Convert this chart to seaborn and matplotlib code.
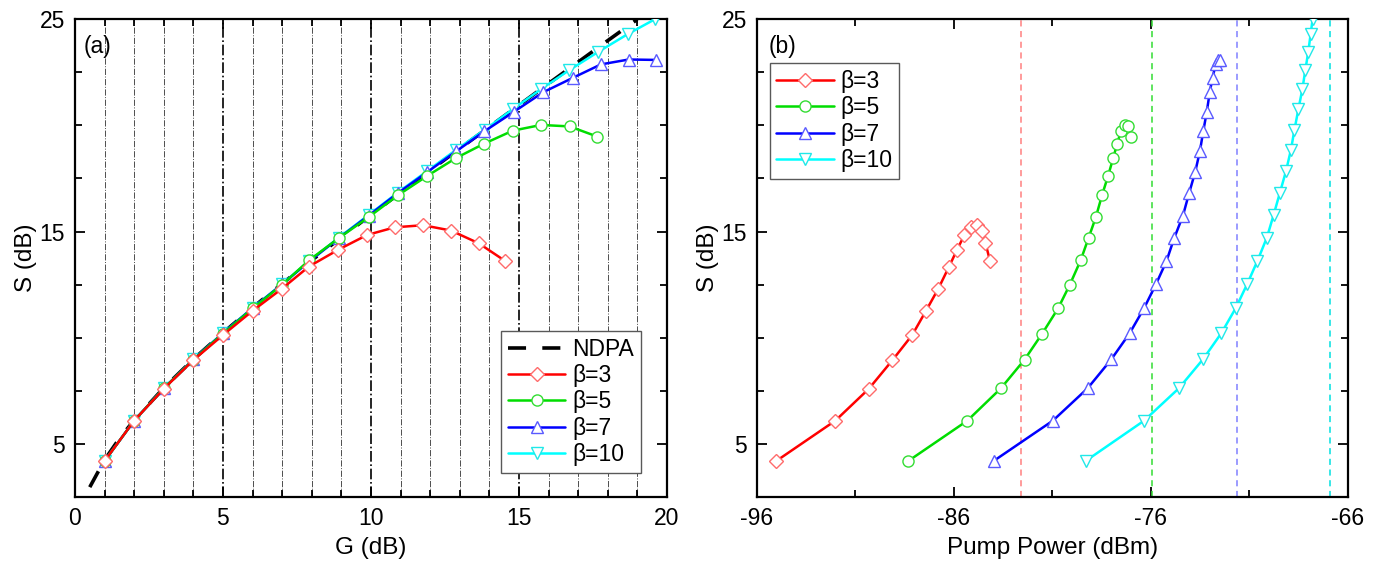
import numpy as np
import pandas as pd
import matplotlib
matplotlib.use('Agg')
import matplotlib.pyplot as plt
from matplotlib.ticker import MultipleLocator
import seaborn as sns

# (a) NDPA reference curve, S vs G
ndpa_gain = [0.5, 1, 1.5, 2, 3, 4, 5, 6, 7, 8, 9, 10, 11, 12, 13, 14, 15, 16, 17, 18, 19]
ndpa_s = [2.97, 4.25, 5.26, 6.12, 7.64, 8.99, 10.23, 11.42, 12.55, 13.65, 14.73, 15.79,
          16.84, 17.88, 18.91, 19.93, 20.95, 21.97, 22.98, 23.99, 24.99]

# beta = 3
b3_gain = [1, 2, 3, 4, 5, 6, 7, 7.9, 8.9, 9.87, 10.8, 11.76, 12.7, 13.64, 14.53]
b3_s = [4.2, 6.1, 7.6, 8.95, 10.13, 11.27, 12.32, 13.35, 14.15, 14.84, 15.2, 15.3, 15.05, 14.45, 13.62]
b3_pump = [-95.0, -92.0, -90.3, -89.1, -88.1, -87.4, -86.77, -86.23, -85.82, -85.45,
           -85.12, -84.82, -84.58, -84.38, -84.15]

# beta = 5
b5_gain = [1, 2, 3, 4, 5, 6, 7, 7.91, 8.92, 9.92, 10.9, 11.9, 12.87, 13.81, 14.79, 15.75, 16.71, 17.65]
b5_s = [4.2, 6.1, 7.62, 8.97, 10.2, 11.38, 12.5, 13.65, 14.7, 15.68, 16.7, 17.62, 18.46,
        19.13, 19.75, 20.02, 19.95, 19.47]
b5_pump = [-88.3, -85.3, -83.6, -82.4, -81.5, -80.7, -80.1, -79.55, -79.15, -78.78, -78.47,
           -78.16, -77.9, -77.7, -77.5, -77.3, -77.16, -77.0]

# beta = 7
b7_gain = [1, 2, 3, 4, 5, 6, 7, 7.92, 8.92, 9.92, 10.9, 11.9, 12.88, 13.83, 14.83, 15.82,
           16.81, 17.77, 18.71, 19.64]
b7_s = [4.2, 6.1, 7.62, 8.98, 10.22, 11.4, 12.52, 13.6, 14.7, 15.75, 16.8, 17.8, 18.78,
        19.72, 20.64, 21.56, 22.23, 22.87, 23.1, 23.08]
b7_pump = [-83.97, -80.96, -79.2, -78.0, -77.06, -76.33, -75.73, -75.2, -74.8, -74.36,
           -74.05, -73.74, -73.5, -73.33, -73.15, -73.0, -72.86, -72.7, -72.58, -72.5]

# beta = 10
b10_gain = [1, 2, 3, 4, 5, 6, 7, 7.92, 8.92, 9.92, 10.9, 11.9, 12.88, 13.85, 14.8, 15.74,
            16.7, 17.68, 18.68, 19.6]
b10_s = [4.2, 6.1, 7.62, 8.98, 10.22, 11.4, 12.53, 13.62, 14.72, 15.78, 16.83, 17.85, 18.85,
         19.8, 20.77, 21.7, 22.6, 23.46, 24.3, 25.0]
b10_pump = [-79.3, -76.33, -74.57, -73.35, -72.41, -71.68, -71.1, -70.58, -70.1, -69.76,
            -69.44, -69.13, -68.88, -68.7, -68.5, -68.3, -68.15, -68.0, -67.88, -67.78]

# (b) dashed pump-power limits per beta
pump_limit = [-82.6, -75.95, -71.6, -66.9]

pump_ticks = [-96, -86, -76, -66]
pump_minor = [-91, -81, -71]

labels = ['β=3', 'β=5', 'β=7', 'β=10']
gains = [b3_gain, b5_gain, b7_gain, b10_gain]
svals = [b3_s, b5_s, b7_s, b10_s]
pumps = [b3_pump, b5_pump, b7_pump, b10_pump]

line_cols = ['#ff0000', '#00dd00', '#0000ff', '#00ffff']
edge_cols = ['#ff6b6b', '#33dd33', '#5a5aff', '#20e8e8']
limit_cols = ['#ff8080', '#33dd33', '#8080ff', '#00e0e0']
markers = ['D', 'o', '^', 'v']
msizes = [7, 8, 9, 9]
zords = [6, 5, 4, 3]

sns.set_style('ticks')
plt.rcParams['font.family'] = ['Liberation Sans', 'DejaVu Sans']
plt.rcParams['axes.unicode_minus'] = False
plt.rcParams['font.size'] = 16.5
for k in ['text.color', 'axes.labelcolor', 'xtick.color', 'ytick.color', 'axes.edgecolor']:
    plt.rcParams[k] = 'black'

fig = plt.figure(figsize=(13.78, 5.63), dpi=100)
ax1 = fig.add_axes([0.0544, 0.117, 0.4296, 0.849])
ax2 = fig.add_axes([0.549, 0.117, 0.429, 0.849])

leg_kw = dict(fancybox=False, edgecolor='0.35', framealpha=1, handlelength=2.5,
              handletextpad=0.3, labelspacing=0.15, borderpad=0.3, borderaxespad=0,
              fontsize=16.5)


def draw(ax, xs, i):
    sns.lineplot(x=xs, y=svals[i], ax=ax, sort=False, estimator=None,
                 color=line_cols[i], lw=1.8, marker=markers[i], ms=msizes[i],
                 mfc='white', mec=edge_cols[i], mew=1.0, label=labels[i], zorder=zords[i])


# ---- panel (a)
sns.lineplot(x=ndpa_gain, y=ndpa_s, ax=ax1, sort=False, estimator=None, color='black',
             lw=2.6, label='NDPA', zorder=2)
ax1.lines[-1].set_dashes((5, 4.5))
for i in range(4):
    draw(ax1, gains[i], i)

ax1.set_xlim(0, 20)
ax1.set_ylim(2.5, 25)
ax1.xaxis.set_major_locator(MultipleLocator(5))
ax1.xaxis.set_minor_locator(MultipleLocator(1))
ax1.grid(which='major', axis='x', ls='-.', color='black', lw=1.2)
ax1.grid(which='minor', axis='x', ls='-.', color='0.3', lw=0.7)
ax1.set_xlabel('G (dB)', fontsize=17.5, labelpad=5)
ax1.set_ylabel('S (dB)', fontsize=17.5, labelpad=2)
ax1.text(0.014, 0.967, '(a)', transform=ax1.transAxes, fontsize=16.5, va='top')
h, l = ax1.get_legend_handles_labels()
ax1.legend(h, l, loc='lower right', bbox_to_anchor=(0.956, 0.05), **leg_kw)

# ---- panel (b)
for i in range(4):
    ax2.axvline(pump_limit[i], color=limit_cols[i], ls=(0, (4, 3)), lw=1.1, zorder=1)
for i in range(4):
    draw(ax2, pumps[i], i)

ax2.set_xlim(-96, -66)
ax2.set_ylim(2.5, 25)
ax2.set_xticks(pump_ticks)
ax2.set_xticks(pump_minor, minor=True)
ax2.set_xlabel('Pump Power (dBm)', fontsize=17.5, labelpad=5)
ax2.set_ylabel('S (dB)', fontsize=17.5, labelpad=2)
ax2.text(0.02, 0.967, '(b)', transform=ax2.transAxes, fontsize=16.5, va='top')
ax2.legend(loc='upper left', bbox_to_anchor=(0.022, 0.908), **leg_kw)

for ax in (ax1, ax2):
    ax.yaxis.set_major_locator(MultipleLocator(10))
    ax.yaxis.set_minor_locator(MultipleLocator(2.5))
    ax.tick_params(which='both', direction='in', top=True, right=True, width=1.3,
                   labelsize=16.5, pad=7)
    ax.tick_params(which='major', length=7)
    ax.tick_params(which='minor', length=5)
    for sp in ax.spines.values():
        sp.set_linewidth(1.6)
    ax.set_yticks([5, 15, 25])

fig.savefig('out.png', dpi=100)
